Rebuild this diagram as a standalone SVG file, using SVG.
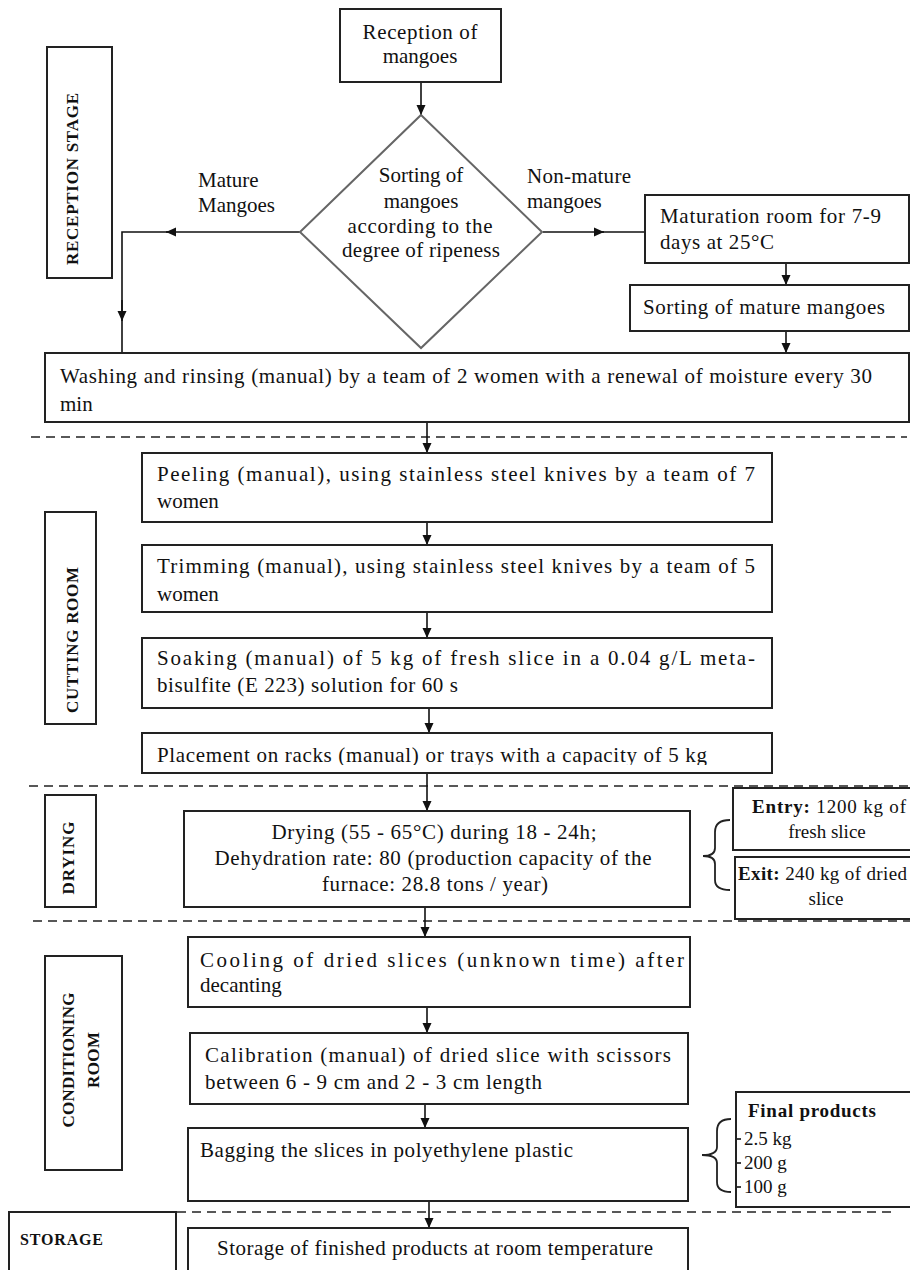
<svg xmlns="http://www.w3.org/2000/svg" width="910" height="1270" viewBox="0 0 910 1270">
<style>
.box{fill:#fff;stroke:#222;stroke-width:2}
.dia{fill:#fff;stroke:#666;stroke-width:2}
.t{font-family:"Liberation Serif","Times New Roman",serif;font-size:21px;fill:#111}
.m{text-anchor:middle}
.s{font-family:"Liberation Serif","Times New Roman",serif;font-size:19px;fill:#111}
.b{font-weight:bold}
.lbl{font-family:"Liberation Serif","Times New Roman",serif;font-size:17px;font-weight:bold;fill:#111;text-anchor:middle}
.conn{stroke:#111;stroke-width:1.6;fill:none}
.arr{stroke:#111;stroke-width:1.6;fill:none;marker-end:url(#ah)}
.dash{stroke:#222;stroke-width:1.6;stroke-dasharray:9 6;fill:none}
.brace{stroke:#222;stroke-width:1.8;fill:none}
</style>
<defs>
<marker id="ah" markerUnits="userSpaceOnUse" markerWidth="10" markerHeight="10" refX="10" refY="5" orient="auto">
<path d="M0,0.5 L10,5 L0,9.5 z" fill="#111"/>
</marker>
<clipPath id="clipPl"><rect x="142" y="733" width="630" height="32"/></clipPath>
</defs>
<rect width="910" height="1270" fill="#fff"/>

<g id="separators">
<line class="dash" x1="31" y1="437" x2="907" y2="437"/>
<line class="dash" x1="29" y1="786" x2="910" y2="786"/>
<line class="dash" x1="33" y1="921" x2="910" y2="921"/>
<line class="dash" x1="177" y1="1212" x2="892" y2="1212"/>
</g>

<g id="stage-reception">
<rect class="box" x="47" y="47" width="65" height="231"/>
<text class="lbl" transform="translate(72,179) rotate(-90)" x="0" y="6" textLength="172" lengthAdjust="spacing">RECEPTION STAGE</text>
</g>
<g id="stage-cutting">
<rect class="box" x="45" y="512" width="51" height="212"/>
<text class="lbl" transform="translate(72,640) rotate(-90)" x="0" y="6" textLength="146" lengthAdjust="spacing">CUTTING ROOM</text>
</g>
<g id="stage-drying">
<rect class="box" x="45" y="795" width="51" height="112"/>
<text class="lbl" transform="translate(68,858) rotate(-90)" x="0" y="6" textLength="73" lengthAdjust="spacing">DRYING</text>
</g>
<g id="stage-conditioning">
<rect class="box" x="45" y="956" width="77" height="214"/>
<text class="lbl" transform="translate(68,1060) rotate(-90)" x="0" y="6" textLength="135" lengthAdjust="spacing">CONDITIONING</text>
<text class="lbl" transform="translate(93,1060) rotate(-90)" x="0" y="6" textLength="56" lengthAdjust="spacing">ROOM</text>
</g>
<g id="stage-storage">
<rect class="box" x="9" y="1212" width="167" height="80"/>
<text class="t b" style="font-size:16px" x="20" y="1245" textLength="83" lengthAdjust="spacing">STORAGE</text>
</g>

<g id="connectors">
<line class="arr" x1="421" y1="82" x2="421" y2="115"/>
<line class="arr" x1="300" y1="232" x2="166" y2="232"/>
<polyline class="conn" points="168,232 122,232 122,312"/>
<line class="arr" x1="122" y1="300" x2="122" y2="321"/>
<line class="conn" x1="122" y1="318" x2="122" y2="353"/>
<line class="arr" x1="543" y1="232" x2="604" y2="232"/>
<line class="conn" x1="600" y1="232" x2="645" y2="232"/>
<line class="arr" x1="786" y1="263" x2="786" y2="285"/>
<line class="arr" x1="786" y1="331" x2="786" y2="353"/>
<line class="arr" x1="427" y1="422" x2="427" y2="453"/>
<line class="arr" x1="427" y1="522" x2="427" y2="545"/>
<line class="arr" x1="427" y1="612" x2="427" y2="638"/>
<line class="arr" x1="429" y1="708" x2="429" y2="733"/>
<line class="arr" x1="427" y1="773" x2="427" y2="811"/>
<line class="arr" x1="425" y1="907" x2="425" y2="937"/>
<line class="arr" x1="427" y1="1007" x2="427" y2="1033"/>
<line class="arr" x1="425" y1="1104" x2="425" y2="1128"/>
<line class="arr" x1="429" y1="1201" x2="429" y2="1228"/>
<path class="brace" d="M730,820 Q715,820 715,832 L715,848 Q715,856 703,856 Q715,856 715,864 L715,880 Q715,890 730,890"/>
<path class="brace" d="M731,1119 Q717,1119 717,1131 L717,1147 Q717,1155 702,1155 Q717,1155 717,1163 L717,1182 Q717,1192 731,1192"/>
</g>

<g id="reception">
<rect class="box" x="340" y="9" width="161" height="73"/>
<text class="t m" x="420" y="39" textLength="115" lengthAdjust="spacing">Reception of</text>
<text class="t m" x="420" y="63">mangoes</text>
</g>

<g id="sorting">
<polygon class="dia" points="421,115 542,232 421,348 300,232"/>
<text class="t m" x="421" y="182">Sorting of</text>
<text class="t m" x="421" y="208">mangoes</text>
<text class="t m" x="420" y="233" textLength="145" lengthAdjust="spacing">according to the</text>
<text class="t m" x="421" y="257" textLength="158" lengthAdjust="spacing">degree of ripeness</text>
</g>

<g id="label-mature">
<text class="t" x="198" y="187">Mature</text>
<text class="t" x="198" y="212">Mangoes</text>
</g>
<g id="label-nonmature">
<text class="t" x="527" y="183" textLength="104" lengthAdjust="spacing">Non-mature</text>
<text class="t" x="527" y="208">mangoes</text>
</g>

<g id="maturation">
<rect class="box" x="645" y="195" width="264" height="68"/>
<text class="t" x="660" y="223" textLength="221" lengthAdjust="spacing">Maturation room for 7-9</text>
<text class="t" x="660" y="249" textLength="114" lengthAdjust="spacing">days at 25°C</text>
</g>

<g id="sorting-mature">
<rect class="box" x="630" y="285" width="279" height="46"/>
<text class="t" x="643" y="314" textLength="242" lengthAdjust="spacing">Sorting of mature mangoes</text>
</g>

<g id="washing">
<rect class="box" x="45" y="353" width="864" height="69"/>
<text class="t" x="60" y="383" textLength="812" lengthAdjust="spacing">Washing and rinsing (manual) by a team of 2 women with a renewal of moisture every 30</text>
<text class="t" x="60" y="411">min</text>
</g>

<g id="peeling">
<rect class="box" x="142" y="453" width="630" height="69"/>
<text class="t" x="157" y="481" textLength="598" lengthAdjust="spacing">Peeling (manual), using stainless steel knives by a team of 7</text>
<text class="t" x="157" y="508">women</text>
</g>

<g id="trimming">
<rect class="box" x="142" y="545" width="630" height="67"/>
<text class="t" x="157" y="573" textLength="598" lengthAdjust="spacing">Trimming (manual), using stainless steel knives by a team of 5</text>
<text class="t" x="157" y="601">women</text>
</g>

<g id="soaking">
<rect class="box" x="142" y="638" width="630" height="70"/>
<text class="t" x="157" y="665" textLength="598" lengthAdjust="spacing">Soaking (manual) of 5 kg of fresh slice in a 0.04 g/L meta-</text>
<text class="t" x="157" y="692" textLength="301" lengthAdjust="spacing">bisulfite (E 223) solution for 60 s</text>
</g>

<g id="placement">
<rect class="box" x="142" y="733" width="630" height="40"/>
<text class="t" clip-path="url(#clipPl)" x="157" y="762" textLength="550" lengthAdjust="spacing">Placement on racks (manual) or trays with a capacity of 5 kg</text>
</g>

<g id="drying">
<rect class="box" x="184" y="811" width="506" height="96"/>
<text class="t m" x="434" y="839" textLength="325" lengthAdjust="spacing">Drying (55 - 65°C) during 18 - 24h;</text>
<text class="t m" x="433" y="865" textLength="437" lengthAdjust="spacing">Dehydration rate: 80 (production capacity of the</text>
<text class="t m" x="435" y="891" textLength="226" lengthAdjust="spacing">furnace: 28.8 tons / year)</text>
</g>

<g id="entry">
<rect class="box" x="733" y="788" width="190" height="62"/>
<text class="s" x="752" y="813" textLength="154" lengthAdjust="spacing"><tspan class="b">Entry:</tspan> 1200 kg of</text>
<text class="s m" x="827" y="838">fresh slice</text>
</g>

<g id="exit">
<rect class="box" x="735" y="857" width="190" height="62"/>
<text class="s" x="738" y="880" textLength="169" lengthAdjust="spacing"><tspan class="b">Exit:</tspan> 240 kg of dried</text>
<text class="s m" x="826" y="905">slice</text>
</g>

<g id="cooling">
<rect class="box" x="188" y="937" width="502" height="70"/>
<text class="t" x="200" y="967" textLength="484" lengthAdjust="spacing">Cooling of dried slices (unknown time) after</text>
<text class="t" x="200" y="992">decanting</text>
</g>

<g id="calibration">
<rect class="box" x="190" y="1033" width="498" height="71"/>
<text class="t" x="205" y="1062" textLength="466" lengthAdjust="spacing">Calibration (manual) of dried slice with scissors</text>
<text class="t" x="205" y="1089" textLength="337" lengthAdjust="spacing">between 6 - 9 cm and 2 - 3 cm length</text>
</g>

<g id="bagging">
<rect class="box" x="188" y="1128" width="500" height="73"/>
<text class="t" x="200" y="1157" textLength="373" lengthAdjust="spacing">Bagging the slices in polyethylene plastic</text>
</g>

<g id="final-products">
<rect class="box" x="736" y="1092" width="190" height="115"/>
<text class="s b" x="748" y="1117" textLength="128" lengthAdjust="spacing">Final products</text>
<line class="conn" x1="737" y1="1139" x2="741" y2="1139"/>
<line class="conn" x1="737" y1="1163" x2="741" y2="1163"/>
<line class="conn" x1="737" y1="1187" x2="741" y2="1187"/>
<text class="s" x="744" y="1145">2.5 kg</text>
<text class="s" x="744" y="1169">200 g</text>
<text class="s" x="744" y="1193">100 g</text>
</g>

<g id="storage">
<rect class="box" x="188" y="1228" width="500" height="70"/>
<text class="t m" x="435" y="1255" textLength="436" lengthAdjust="spacing">Storage of finished products at room temperature</text>
</g>
</svg>
